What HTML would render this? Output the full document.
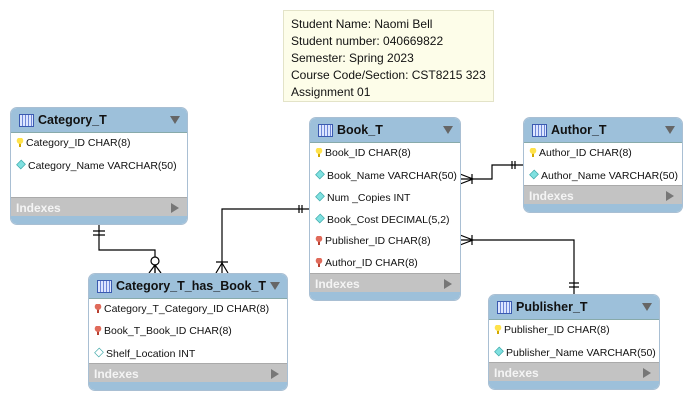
<!DOCTYPE html>
<html><head><meta charset="utf-8"><style>
body{margin:0;width:692px;height:401px;background:#fff;position:relative;font-family:"Liberation Sans",sans-serif;overflow:hidden}
.t{position:absolute;background:#fff;border:1px solid #a9bfd3;border-radius:7px;overflow:hidden;box-sizing:border-box}
.h{height:25px;background:#9dc0da;position:relative;border-bottom:1px solid #8aa;box-sizing:border-box}
.h .ic{position:absolute;left:8px;top:6px;width:13px;height:11px;border:1px solid #3a5ab0;background:repeating-linear-gradient(90deg,#dde6ff 0 2px,#6d86d6 2px 3px)}
.h .n{position:absolute;left:27px;top:5px;font-weight:bold;font-size:12.5px;color:#111}
.h .a{position:absolute;right:7px;top:8px;width:0;height:0;border-left:5px solid transparent;border-right:5px solid transparent;border-top:8px solid #666}
.r{position:absolute;left:5px;font-size:10.5px;color:#111;white-space:nowrap}
.r i{display:inline-block;width:8px;height:9px;margin-right:2px;vertical-align:-1px;font-style:normal}
.pk{background:radial-gradient(circle at 50% 30%,#ffe24a 0 3px,transparent 3.5px),linear-gradient(90deg,transparent 3px,#d2a800 3px 5px,transparent 5px)}
.fk{background:radial-gradient(circle at 50% 30%,#e06a5a 0 3px,transparent 3.5px),linear-gradient(90deg,transparent 3px,#b84030 3px 5px,transparent 5px)}
.dm{transform:rotate(45deg) scale(.65);background:#7fe0e0;border:1px solid #4aa}
.dw{transform:rotate(45deg) scale(.65);background:#fff;border:1px solid #4aa}
.ix{position:absolute;left:0;right:0;height:21px;background:#c3c3c3;border-top:1px solid #aaa}
.ix span{position:absolute;left:5px;top:3px;color:#f4f4f4;font-weight:bold;font-size:12px}
.ix b{position:absolute;right:8px;top:5px;width:0;height:0;border-top:5px solid transparent;border-bottom:5px solid transparent;border-left:8px solid #777}
.ft{position:absolute;left:0;right:0;bottom:0;height:8px;background:#9dc0da}
.note{position:absolute;left:283px;top:10px;width:211px;height:92px;box-sizing:border-box;background:#fdfde9;border:1px solid #e3e3c8;font-size:12px;color:#111;padding:5px 0 0 7px;line-height:17px}
</style></head><body>
<div class="note">Student Name: Naomi Bell<br>Student number: 040669822<br>Semester: Spring 2023<br>Course Code/Section: CST8215 323<br>Assignment 01</div>

<svg width="692" height="401" style="position:absolute;left:0;top:0" fill="none" stroke="#000" stroke-width="1.2">
<path d="M99 225V250H155V273"/><path d="M93 231H105M93 235H105"/><circle cx="155" cy="261" r="4" fill="#fff"/><path d="M149 273L155 265L161 273M155 265V273"/>
<path d="M309 209H222V273"/><path d="M299 205V213M302 205V213"/><path d="M216 262H228M216 273L222 263L228 273"/>
<path d="M460 179H492V165H523"/><path d="M512 161V169M515 161V169"/><path d="M460 174L473 179L460 184M472 174V184"/>
<path d="M460 240H574V294"/><path d="M569 283H579M569 287H579"/><path d="M460 235L473 240L460 245M472 235V245"/>
</svg>

<div class="t" style="left:10px;top:107px;width:178px;height:118px">
<div class="h"><div class="ic"></div><div class="n">Category_T</div><div class="a"></div></div>
<div class="r" style="top:29px"><i class="pk"></i>Category_ID CHAR(8)</div>
<div class="r" style="top:51px"><i class="dm"></i>Category_Name VARCHAR(50)</div>
<div class="ix" style="top:89px"><span>Indexes</span><b></b></div><div class="ft"></div></div>

<div class="t" style="left:88px;top:273px;width:200px;height:118px">
<div class="h"><div class="ic"></div><div class="n">Category_T_has_Book_T</div><div class="a"></div></div>
<div class="r" style="top:29px"><i class="fk"></i>Category_T_Category_ID CHAR(8)</div>
<div class="r" style="top:51px"><i class="fk"></i>Book_T_Book_ID CHAR(8)</div>
<div class="r" style="top:73px"><i class="dw"></i>Shelf_Location INT</div>
<div class="ix" style="top:89px"><span>Indexes</span><b></b></div><div class="ft"></div></div>

<div class="t" style="left:309px;top:117px;width:152px;height:184px">
<div class="h"><div class="ic"></div><div class="n">Book_T</div><div class="a"></div></div>
<div class="r" style="top:29px"><i class="pk"></i>Book_ID CHAR(8)</div>
<div class="r" style="top:51px"><i class="dm"></i>Book_Name VARCHAR(50)</div>
<div class="r" style="top:73px"><i class="dm"></i>Num _Copies INT</div>
<div class="r" style="top:95px"><i class="dm"></i>Book_Cost DECIMAL(5,2)</div>
<div class="r" style="top:117px"><i class="fk"></i>Publisher_ID CHAR(8)</div>
<div class="r" style="top:139px"><i class="fk"></i>Author_ID CHAR(8)</div>
<div class="ix" style="top:155px"><span>Indexes</span><b></b></div><div class="ft"></div></div>

<div class="t" style="left:523px;top:117px;width:160px;height:96px">
<div class="h"><div class="ic"></div><div class="n">Author_T</div><div class="a"></div></div>
<div class="r" style="top:29px"><i class="pk"></i>Author_ID CHAR(8)</div>
<div class="r" style="top:51px"><i class="dm"></i>Author_Name VARCHAR(50)</div>
<div class="ix" style="top:67px"><span>Indexes</span><b></b></div><div class="ft"></div></div>

<div class="t" style="left:488px;top:294px;width:172px;height:96px">
<div class="h"><div class="ic"></div><div class="n">Publisher_T</div><div class="a"></div></div>
<div class="r" style="top:29px"><i class="pk"></i>Publisher_ID CHAR(8)</div>
<div class="r" style="top:51px"><i class="dm"></i>Publisher_Name VARCHAR(50)</div>
<div class="ix" style="top:67px"><span>Indexes</span><b></b></div><div class="ft"></div></div>
</body></html>
